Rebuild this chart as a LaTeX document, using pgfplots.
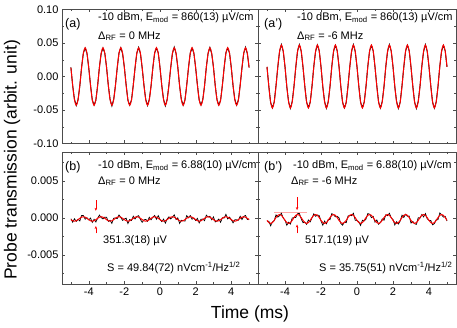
\documentclass[border=0pt]{standalone}
\usepackage{pgfplots}
\pgfplotsset{compat=1.18}
\usepackage{pgfplotstable}
\usepackage{fontspec}
\setmainfont{Liberation Sans}
\usetikzlibrary{arrows.meta}

\newcommand\ann{\fontsize{11}{13}\selectfont}

% panel (a): 860 uV/cm, 0 MHz  (values in units of 1e-4)
\pgfplotstableread{
t data fit
-5.0 136e-4 133e-4
-4.9 -138e-4 -133e-4
-4.8 -340e-4 -348e-4
-4.7 -432e-4 -430e-4
-4.6 -347e-4 -348e-4
-4.5 -142e-4 -133e-4
-4.4 139e-4 133e-4
-4.3 352e-4 348e-4
-4.2 423e-4 430e-4
-4.1 350e-4 348e-4
-4.0 132e-4 133e-4
-3.9 -124e-4 -133e-4
-3.8 -352e-4 -348e-4
-3.7 -425e-4 -430e-4
-3.6 -356e-4 -348e-4
-3.5 -133e-4 -133e-4
-3.4 140e-4 133e-4
-3.3 345e-4 348e-4
-3.2 424e-4 430e-4
-3.1 352e-4 348e-4
-3.0 141e-4 133e-4
-2.9 -135e-4 -133e-4
-2.8 -345e-4 -348e-4
-2.7 -439e-4 -430e-4
-2.6 -343e-4 -348e-4
-2.5 -132e-4 -133e-4
-2.4 128e-4 133e-4
-2.3 354e-4 348e-4
-2.2 429e-4 430e-4
-2.1 341e-4 348e-4
-2.0 135e-4 133e-4
-1.9 -124e-4 -133e-4
-1.8 -356e-4 -348e-4
-1.7 -426e-4 -430e-4
-1.6 -351e-4 -348e-4
-1.5 -126e-4 -133e-4
-1.4 127e-4 133e-4
-1.3 349e-4 348e-4
-1.2 435e-4 430e-4
-1.1 344e-4 348e-4
-1.0 124e-4 133e-4
-0.9 -130e-4 -133e-4
-0.8 -342e-4 -348e-4
-0.7 -432e-4 -430e-4
-0.6 -340e-4 -348e-4
-0.5 -138e-4 -133e-4
-0.4 133e-4 133e-4
-0.3 352e-4 348e-4
-0.2 423e-4 430e-4
-0.1 357e-4 348e-4
0.0 134e-4 133e-4
0.1 -136e-4 -133e-4
0.2 -341e-4 -348e-4
0.3 -438e-4 -430e-4
0.4 -346e-4 -348e-4
0.5 -128e-4 -133e-4
0.6 127e-4 133e-4
0.7 347e-4 348e-4
0.8 438e-4 430e-4
0.9 344e-4 348e-4
1.0 139e-4 133e-4
1.1 -142e-4 -133e-4
1.2 -345e-4 -348e-4
1.3 -430e-4 -430e-4
1.4 -353e-4 -348e-4
1.5 -124e-4 -133e-4
1.6 131e-4 133e-4
1.7 352e-4 348e-4
1.8 423e-4 430e-4
1.9 349e-4 348e-4
2.0 130e-4 133e-4
2.1 -125e-4 -133e-4
2.2 -354e-4 -348e-4
2.3 -425e-4 -430e-4
2.4 -346e-4 -348e-4
2.5 -141e-4 -133e-4
2.6 140e-4 133e-4
2.7 347e-4 348e-4
2.8 433e-4 430e-4
2.9 343e-4 348e-4
3.0 142e-4 133e-4
3.1 -137e-4 -133e-4
3.2 -347e-4 -348e-4
3.3 -424e-4 -430e-4
3.4 -357e-4 -348e-4
3.5 -131e-4 -133e-4
3.6 130e-4 133e-4
3.7 356e-4 348e-4
3.8 424e-4 430e-4
3.9 352e-4 348e-4
4.0 133e-4 133e-4
4.1 -140e-4 -133e-4
4.2 -343e-4 -348e-4
4.3 -427e-4 -430e-4
4.4 -350e-4 -348e-4
4.5 -126e-4 -133e-4
4.6 125e-4 133e-4
4.7 349e-4 348e-4
4.8 436e-4 430e-4
4.9 344e-4 348e-4
5.0 135e-4 133e-4
}\tabA

% panel (a'): 860 uV/cm, -6 MHz
\pgfplotstableread{
t data fit
-5.0 142e-4 145e-4
-4.9 -140e-4 -145e-4
-4.8 -388e-4 -380e-4
-4.7 -468e-4 -470e-4
-4.6 -381e-4 -380e-4
-4.5 -136e-4 -145e-4
-4.4 139e-4 145e-4
-4.3 376e-4 380e-4
-4.2 477e-4 470e-4
-4.1 378e-4 380e-4
-4.0 146e-4 145e-4
-3.9 -154e-4 -145e-4
-3.8 -376e-4 -380e-4
-3.7 -475e-4 -470e-4
-3.6 -372e-4 -380e-4
-3.5 -145e-4 -145e-4
-3.4 138e-4 145e-4
-3.3 383e-4 380e-4
-3.2 476e-4 470e-4
-3.1 376e-4 380e-4
-3.0 137e-4 145e-4
-2.9 -143e-4 -145e-4
-2.8 -383e-4 -380e-4
-2.7 -461e-4 -470e-4
-2.6 -385e-4 -380e-4
-2.5 -146e-4 -145e-4
-2.4 150e-4 145e-4
-2.3 374e-4 380e-4
-2.2 471e-4 470e-4
-2.1 387e-4 380e-4
-2.0 143e-4 145e-4
-1.9 -154e-4 -145e-4
-1.8 -372e-4 -380e-4
-1.7 -474e-4 -470e-4
-1.6 -377e-4 -380e-4
-1.5 -152e-4 -145e-4
-1.4 151e-4 145e-4
-1.3 379e-4 380e-4
-1.2 465e-4 470e-4
-1.1 384e-4 380e-4
-1.0 154e-4 145e-4
-0.9 -148e-4 -145e-4
-0.8 -386e-4 -380e-4
-0.7 -468e-4 -470e-4
-0.6 -388e-4 -380e-4
-0.5 -140e-4 -145e-4
-0.4 145e-4 145e-4
-0.3 376e-4 380e-4
-0.2 477e-4 470e-4
-0.1 371e-4 380e-4
0.0 144e-4 145e-4
0.1 -142e-4 -145e-4
0.2 -387e-4 -380e-4
0.3 -462e-4 -470e-4
0.4 -382e-4 -380e-4
0.5 -150e-4 -145e-4
0.6 151e-4 145e-4
0.7 381e-4 380e-4
0.8 462e-4 470e-4
0.9 384e-4 380e-4
1.0 139e-4 145e-4
1.1 -136e-4 -145e-4
1.2 -383e-4 -380e-4
1.3 -470e-4 -470e-4
1.4 -375e-4 -380e-4
1.5 -154e-4 -145e-4
1.6 147e-4 145e-4
1.7 376e-4 380e-4
1.8 477e-4 470e-4
1.9 379e-4 380e-4
2.0 148e-4 145e-4
2.1 -153e-4 -145e-4
2.2 -374e-4 -380e-4
2.3 -475e-4 -470e-4
2.4 -382e-4 -380e-4
2.5 -137e-4 -145e-4
2.6 138e-4 145e-4
2.7 381e-4 380e-4
2.8 467e-4 470e-4
2.9 385e-4 380e-4
3.0 136e-4 145e-4
3.1 -141e-4 -145e-4
3.2 -381e-4 -380e-4
3.3 -476e-4 -470e-4
3.4 -371e-4 -380e-4
3.5 -147e-4 -145e-4
3.6 148e-4 145e-4
3.7 372e-4 380e-4
3.8 476e-4 470e-4
3.9 376e-4 380e-4
4.0 145e-4 145e-4
4.1 -138e-4 -145e-4
4.2 -385e-4 -380e-4
4.3 -473e-4 -470e-4
4.4 -378e-4 -380e-4
4.5 -152e-4 -145e-4
4.6 153e-4 145e-4
4.7 379e-4 380e-4
4.8 464e-4 470e-4
4.9 384e-4 380e-4
5.0 143e-4 145e-4
}\tabAp

% panel (b): 6.88 uV/cm, 0 MHz  (values in units of 1e-5)
\pgfplotstableread{
t data fit
-5.0 -12e-5 -24e-5
-4.9 -59e-5 -39e-5
-4.8 -13e-5 -45e-5
-4.7 -47e-5 -39e-5
-4.6 -20e-5 -24e-5
-4.5 -42e-5 -6e-5
-4.4 33e-5 9e-5
-4.3 31e-5 15e-5
-4.2 -19e-5 9e-5
-4.1 2e-5 -6e-5
-4.0 -28e-5 -24e-5
-3.9 -3e-5 -39e-5
-3.8 -61e-5 -45e-5
-3.7 -19e-5 -39e-5
-3.6 -56e-5 -24e-5
-3.5 -6e-5 -6e-5
-3.4 37e-5 9e-5
-3.3 3e-5 15e-5
-3.2 -15e-5 9e-5
-3.1 10e-5 -6e-5
-3.0 8e-5 -24e-5
-2.9 -47e-5 -39e-5
-2.8 -33e-5 -45e-5
-2.7 -75e-5 -39e-5
-2.6 -4e-5 -24e-5
-2.5 -2e-5 -6e-5
-2.4 -11e-5 9e-5
-2.3 39e-5 15e-5
-2.2 5e-5 9e-5
-2.1 -34e-5 -6e-5
-2.0 -16e-5 -24e-5
-1.9 -3e-5 -39e-5
-1.8 -77e-5 -45e-5
-1.7 -23e-5 -39e-5
-1.6 -36e-5 -24e-5
-1.5 22e-5 -6e-5
-1.4 -15e-5 9e-5
-1.3 19e-5 15e-5
-1.2 29e-5 9e-5
-1.1 -22e-5 -6e-5
-1.0 -60e-5 -24e-5
-0.9 -27e-5 -39e-5
-0.8 -21e-5 -45e-5
-0.7 -47e-5 -39e-5
-0.6 8e-5 -24e-5
-0.5 -26e-5 -6e-5
-0.4 9e-5 9e-5
-0.3 31e-5 15e-5
-0.2 -19e-5 9e-5
-0.1 30e-5 -6e-5
0.0 -20e-5 -24e-5
0.1 -51e-5 -39e-5
0.2 -17e-5 -45e-5
0.3 -71e-5 -39e-5
0.4 -16e-5 -24e-5
0.5 14e-5 -6e-5
0.6 -15e-5 9e-5
0.7 11e-5 15e-5
0.8 41e-5 9e-5
0.9 -22e-5 -6e-5
1.0 0e-5 -24e-5
1.1 -75e-5 -39e-5
1.2 -33e-5 -45e-5
1.3 -39e-5 -39e-5
1.4 -44e-5 -24e-5
1.5 30e-5 -6e-5
1.6 1e-5 9e-5
1.7 31e-5 15e-5
1.8 -19e-5 9e-5
1.9 -2e-5 -6e-5
2.0 -36e-5 -24e-5
2.1 -7e-5 -39e-5
2.2 -69e-5 -45e-5
2.3 -19e-5 -39e-5
2.4 -16e-5 -24e-5
2.5 -38e-5 -6e-5
2.6 37e-5 9e-5
2.7 11e-5 15e-5
2.8 21e-5 9e-5
2.9 -26e-5 -6e-5
3.0 12e-5 -24e-5
3.1 -55e-5 -39e-5
3.2 -41e-5 -45e-5
3.3 -15e-5 -39e-5
3.4 -60e-5 -24e-5
3.5 2e-5 -6e-5
3.6 -3e-5 9e-5
3.7 47e-5 15e-5
3.8 -15e-5 9e-5
3.9 10e-5 -6e-5
4.0 -24e-5 -24e-5
4.1 -67e-5 -39e-5
4.2 -25e-5 -45e-5
4.3 -27e-5 -39e-5
4.4 -32e-5 -24e-5
4.5 22e-5 -6e-5
4.6 -23e-5 9e-5
4.7 19e-5 15e-5
4.8 33e-5 9e-5
4.9 -22e-5 -6e-5
5.0 -16e-5 -24e-5
}\tabB

% panel (b'): 6.88 uV/cm, -6 MHz
\pgfplotstableread{
t data fit
-5.0 -46e-5 -34e-5
-4.9 -44e-5 -64e-5
-4.8 -107e-5 -75e-5
-4.7 -56e-5 -64e-5
-4.6 -38e-5 -34e-5
-4.5 40e-5 4e-5
-4.4 10e-5 34e-5
-4.3 29e-5 45e-5
-4.2 62e-5 34e-5
-4.1 -4e-5 4e-5
-4.0 -30e-5 -34e-5
-3.9 -100e-5 -64e-5
-3.8 -59e-5 -75e-5
-3.7 -84e-5 -64e-5
-3.6 -2e-5 -34e-5
-3.5 4e-5 4e-5
-3.4 6e-5 34e-5
-3.3 57e-5 45e-5
-3.2 58e-5 34e-5
-3.1 -12e-5 4e-5
-3.0 -66e-5 -34e-5
-2.9 -56e-5 -64e-5
-2.8 -87e-5 -75e-5
-2.7 -28e-5 -64e-5
-2.6 -54e-5 -34e-5
-2.5 0e-5 4e-5
-2.4 54e-5 34e-5
-2.3 21e-5 45e-5
-2.2 38e-5 34e-5
-2.1 32e-5 4e-5
-2.0 -42e-5 -34e-5
-1.9 -100e-5 -64e-5
-1.8 -43e-5 -75e-5
-1.7 -80e-5 -64e-5
-1.6 -22e-5 -34e-5
-1.5 -24e-5 4e-5
-1.4 58e-5 34e-5
-1.3 41e-5 45e-5
-1.2 14e-5 34e-5
-1.1 20e-5 4e-5
-1.0 2e-5 -34e-5
-0.9 -76e-5 -64e-5
-0.8 -99e-5 -75e-5
-0.7 -56e-5 -64e-5
-0.6 -66e-5 -34e-5
-0.5 24e-5 4e-5
-0.4 34e-5 34e-5
-0.3 29e-5 45e-5
-0.2 62e-5 34e-5
-0.1 -32e-5 4e-5
0.0 -38e-5 -34e-5
0.1 -52e-5 -64e-5
0.2 -103e-5 -75e-5
0.3 -32e-5 -64e-5
0.4 -42e-5 -34e-5
0.5 -16e-5 4e-5
0.6 58e-5 34e-5
0.7 49e-5 45e-5
0.8 2e-5 34e-5
0.9 20e-5 4e-5
1.0 -58e-5 -34e-5
1.1 -28e-5 -64e-5
1.2 -87e-5 -75e-5
1.3 -64e-5 -64e-5
1.4 -14e-5 -34e-5
1.5 -32e-5 4e-5
1.6 42e-5 34e-5
1.7 29e-5 45e-5
1.8 62e-5 34e-5
1.9 0e-5 4e-5
2.0 -22e-5 -34e-5
2.1 -96e-5 -64e-5
2.2 -51e-5 -75e-5
2.3 -84e-5 -64e-5
2.4 -42e-5 -34e-5
2.5 36e-5 4e-5
2.6 6e-5 34e-5
2.7 49e-5 45e-5
2.8 22e-5 34e-5
2.9 24e-5 4e-5
3.0 -70e-5 -34e-5
3.1 -48e-5 -64e-5
3.2 -79e-5 -75e-5
3.3 -88e-5 -64e-5
3.4 2e-5 -34e-5
3.5 -4e-5 4e-5
3.6 46e-5 34e-5
3.7 13e-5 45e-5
3.8 58e-5 34e-5
3.9 -12e-5 4e-5
4.0 -34e-5 -34e-5
4.1 -36e-5 -64e-5
4.2 -95e-5 -75e-5
4.3 -76e-5 -64e-5
4.4 -26e-5 -34e-5
4.5 -24e-5 4e-5
4.6 66e-5 34e-5
4.7 41e-5 45e-5
4.8 10e-5 34e-5
4.9 20e-5 4e-5
5.0 -42e-5 -34e-5
}\tabBp

\pgfplotsset{
  panel/.style={
    scale only axis, anchor=south west,
    axis line style={black!70}, tick style={black!70},
    major tick length=3pt, minor tick length=1.8pt, tick align=inside,
    xmin=-5.5, xmax=5.5,
    xtick={-4,-2,0,2,4}, minor xtick={-5,-3,-1,1,3,5},
    ticklabel style={font=\fontsize{11}{12}\selectfont},
    /pgf/number format/assume math mode=true,
    scaled y ticks=false,
  },
  toppanel/.style={panel, height=134pt,
    ymin=-0.10, ymax=0.10,
    ytick={-0.1,-0.05,0,0.05,0.1}, minor ytick={-0.075,-0.025,0.025,0.075},
    xticklabels={},
    yticklabel style={/pgf/number format/.cd, fixed, fixed zerofill, precision=2},
  },
  botpanel/.style={panel, height=132.3pt,
    ymin=-0.0089, ymax=0.0089,
    ytick={-0.005,0,0.005}, minor ytick={-0.0075,-0.0025,0.0025,0.0075},
    yticklabel style={/pgf/number format/.cd, fixed, fixed zerofill, precision=3},
  },
  datal/.style={black, line width=0.9pt},
  fitl/.style={red, line width=1pt},
}

\begin{document}
\begin{tikzpicture}
\useasboundingbox (0,0) rectangle (457pt,327pt);

% (a)
\begin{axis}[toppanel, at={(62pt,183.5pt)}, width=196pt]
  \addplot[datal] table[x=t, y=data] {\tabA};
  \addplot[fitl, smooth] table[x=t, y=fit] {\tabA};
\end{axis}

% (a')
\begin{axis}[toppanel, at={(258pt,183.5pt)}, width=198pt, yticklabels={}]
  \addplot[datal] table[x=t, y=data] {\tabAp};
  \addplot[fitl, smooth] table[x=t, y=fit] {\tabAp};
\end{axis}

% (b)
\begin{axis}[botpanel, at={(62pt,43pt)}, width=196pt]
  \addplot[datal, line width=0.7pt] table[x=t, y=data] {\tabB};
  \addplot[fitl, smooth] table[x=t, y=fit] {\tabB};
  \draw[red, -{Stealth[length=3pt,width=2.5pt]}] (axis cs:-3.6,0.0024) -- (axis cs:-3.6,0.00095);
  \draw[red, -{Stealth[length=3pt,width=2.5pt]}] (axis cs:-3.6,-0.0021) -- (axis cs:-3.6,-0.0011);
\end{axis}

% (b')
\begin{axis}[botpanel, at={(258pt,43pt)}, width=198pt, yticklabels={}]
  \draw[red!35, line width=0.8pt] (axis cs:-4.6,0.0007) -- (axis cs:-2.8,0.0007);
  \addplot[datal, line width=0.7pt] table[x=t, y=data] {\tabBp};
  \addplot[fitl, smooth] table[x=t, y=fit] {\tabBp};
  \draw[red, -{Stealth[length=3pt,width=2.5pt]}] (axis cs:-3.33,0.0028) -- (axis cs:-3.33,0.00105);
  \draw[red, -{Stealth[length=3pt,width=2.5pt]}] (axis cs:-3.33,-0.0021) -- (axis cs:-3.33,-0.0009);
\end{axis}

% panel texts
\begin{scope}[every node/.style={anchor=west, inner sep=0pt, font=\ann}]
  \node[font=\fontsize{12.5}{14}\selectfont] at (65pt,303pt) {(a)};
  \node at (98pt,309pt) {-10 dBm, E\textsubscript{mod} = 860(13) µV/cm};
  \node at (98pt,291pt) {Δ\textsubscript{RF} = 0 MHz};

  \node[font=\fontsize{12.5}{14}\selectfont] at (264pt,303pt) {(a')};
  \node at (297pt,309pt) {-10 dBm, E\textsubscript{mod} = 860(13) µV/cm};
  \node at (297pt,291pt) {Δ\textsubscript{RF} = -6 MHz};

  \node[font=\fontsize{12.5}{14}\selectfont] at (65pt,160pt) {(b)};
  \node at (98pt,161pt) {-10 dBm, E\textsubscript{mod} = 6.88(10) µV/cm};
  \node at (98pt,146pt) {Δ\textsubscript{RF} = 0 MHz};
  \node at (103pt,86pt) {351.3(18) µV};
  \node at (107pt,59pt) {S = 49.84(72) nVcm\textsuperscript{-1}/Hz\textsuperscript{1/2}};

  \node[font=\fontsize{12.5}{14}\selectfont] at (264pt,160pt) {(b')};
  \node at (293pt,161pt) {-10 dBm, E\textsubscript{mod} = 6.88(10) µV/cm};
  \node at (291pt,146pt) {Δ\textsubscript{RF} = -6 MHz};
  \node at (305pt,86pt) {517.1(19) µV};
  \node at (319pt,59pt) {S = 35.75(51) nVcm\textsuperscript{-1}/Hz\textsuperscript{1/2}};
\end{scope}

% axis titles
\node[font=\fontsize{17.5}{20}\selectfont, rotate=90, inner sep=0pt] at (12pt,167pt) {Probe transmission (arbit. unit)};
\node[font=\fontsize{17.5}{20}\selectfont, inner sep=0pt] at (250pt,13pt) {Time (ms)};
\end{tikzpicture}
\end{document}
